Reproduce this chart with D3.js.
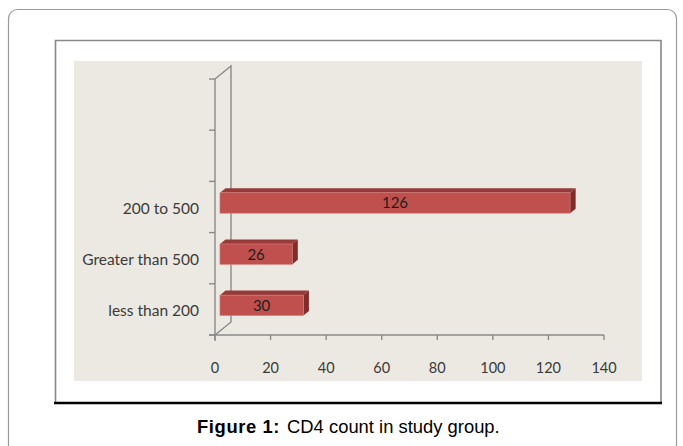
<!DOCTYPE html>
<html>
<head>
<meta charset="utf-8">
<script src="https://cdn.jsdelivr.net/npm/d3@7"></script>
<style>
  html, body { margin: 0; padding: 0; background: #fff; }
  svg { display: block; }
</style>
</head>
<body>
<svg id="chart" width="683" height="446"></svg>
<script>
// CD4 count groups and number of patients in each
const categories = ["less than 200", "Greater than 500", "200 to 500"];
const counts = [30, 26, 126];
// category slots on the vertical axis (two unused slots on top)
const slotCount = 5;
const xTicks = [0, 20, 40, 60, 80, 100, 120, 140];
const caption = { bold: "Figure 1:", text: "CD4 count in study group." };

const svg = d3.select("#chart");

// outer rounded frame
svg.append("rect")
  .attr("x", 8.5).attr("y", 9.5).attr("width", 668).attr("height", 470)
  .attr("rx", 9).attr("fill", "none").attr("stroke", "#9a9a9a").attr("stroke-width", 1.2);

// inner figure box
svg.append("path")
  .attr("d", "M55.5,403 V40.5 H661 V403")
  .attr("fill", "none").attr("stroke", "#888").attr("stroke-width", 1.6);
svg.append("line")
  .attr("x1", 54).attr("x2", 662).attr("y1", 403).attr("y2", 403)
  .attr("stroke", "#000").attr("stroke-width", 2.6);

// plot background
svg.append("rect")
  .attr("x", 74).attr("y", 61).attr("width", 568).attr("height", 320)
  .attr("fill", "#ece9e2");

// scales
const x = d3.scaleLinear().domain([0, 140]).range([215, 604]);
const y = d3.scaleBand().domain(d3.range(slotCount)).range([335, 79]).paddingInner(0).paddingOuter(0);

// 3D depth vector of the wall
const depth = { dx: 16, dy: -13 };
const axisColor = "#8a8a8a";
const g = svg.append("g");

// back wall vertical edge and side diagonals
const yTop = y.range()[1], yBot = y.range()[0], x0 = x(0);
g.append("path")
  .attr("d", `M${x0},${yTop} L${x0 + depth.dx},${yTop + depth.dy} V${yBot + depth.dy} L${x0},${yBot}`)
  .attr("fill", "none").attr("stroke", axisColor).attr("stroke-width", 1.4);

// front vertical axis with ticks at slot boundaries
g.append("line")
  .attr("x1", x0).attr("x2", x0).attr("y1", yTop).attr("y2", yBot + 6)
  .attr("stroke", axisColor).attr("stroke-width", 1.4);
const bounds = d3.range(slotCount + 1).map(i => i < slotCount ? y(i) + y.bandwidth() : yTop);
g.selectAll(".ytick").data(bounds).join("line")
  .attr("x1", x0 - 6).attr("x2", x0).attr("y1", d => d).attr("y2", d => d)
  .attr("stroke", axisColor).attr("stroke-width", 1.4);

// horizontal axis
g.append("line")
  .attr("x1", x0 - 6).attr("x2", x(140)).attr("y1", yBot).attr("y2", yBot)
  .attr("stroke", axisColor).attr("stroke-width", 1.4);
g.selectAll(".xtick").data(xTicks).join("line")
  .attr("x1", d => x(d)).attr("x2", d => x(d)).attr("y1", yBot).attr("y2", yBot + 5)
  .attr("stroke", axisColor).attr("stroke-width", 1.4);
g.selectAll(".xlabel").data(xTicks).join("text")
  .attr("x", d => x(d)).attr("y", 373)
  .attr("text-anchor", "middle")
  .attr("font-family", "Lato, 'Open Sans', sans-serif").attr("font-size", 14.5)
  .attr("fill", "#3a3a3a")
  .text(d => d);

// category labels
g.selectAll(".ylabel").data(categories).join("text")
  .attr("x", 199).attr("y", (d, i) => y(i) + y.bandwidth() / 2 + 6.5)
  .attr("text-anchor", "end")
  .attr("font-family", "Lato, 'Open Sans', sans-serif").attr("font-size", 15.5)
  .attr("fill", "#3a3a3a")
  .text(d => d);

// 3D bars
const d0 = 0.31, d1 = 0.66;
const barH = y.bandwidth() * 0.4;
const bars = g.selectAll(".bar").data(counts).join("g");
bars.each(function (v, i) {
  const sel = d3.select(this);
  const cy = y(i) + y.bandwidth() / 2;
  const fx0 = x(0) + depth.dx * d0, fx1 = x(v) + depth.dx * d0;
  const fyT = cy - barH / 2 + depth.dy * d0, fyB = cy + barH / 2 + depth.dy * d0;
  const ox = depth.dx * (d1 - d0), oy = depth.dy * (d1 - d0);
  // top face
  sel.append("path")
    .attr("d", `M${fx0},${fyT} L${fx0 + ox},${fyT + oy} H${fx1 + ox} L${fx1},${fyT} Z`)
    .attr("fill", "#963b39");
  // side face
  sel.append("path")
    .attr("d", `M${fx1},${fyT} L${fx1 + ox},${fyT + oy} V${fyB + oy} L${fx1},${fyB} Z`)
    .attr("fill", "#7e2d2b");
  // front face
  sel.append("rect")
    .attr("x", fx0).attr("y", fyT).attr("width", fx1 - fx0).attr("height", fyB - fyT)
    .attr("fill", "#c0504d").attr("stroke", "#d9817f").attr("stroke-width", 0.6);
  // value label
  sel.append("text")
    .attr("x", (fx0 + fx1) / 2).attr("y", (fyT + fyB) / 2 + 5.5)
    .attr("text-anchor", "middle")
    .attr("font-family", "Lato, 'Open Sans', sans-serif").attr("font-size", 15)
    .attr("fill", "#1e1e1e")
    .text(v);
});

// caption
const cap = svg.append("text").attr("x", 197).attr("y", 433)
  .attr("font-family", "'Liberation Sans', Arial, sans-serif").attr("font-size", 18.4)
  .attr("fill", "#000");
cap.append("tspan").attr("font-weight", "bold").attr("letter-spacing", 0.6).text(caption.bold);
cap.append("tspan").attr("dx", 7).attr("letter-spacing", 0).text(caption.text);
</script>
</body>
</html>
